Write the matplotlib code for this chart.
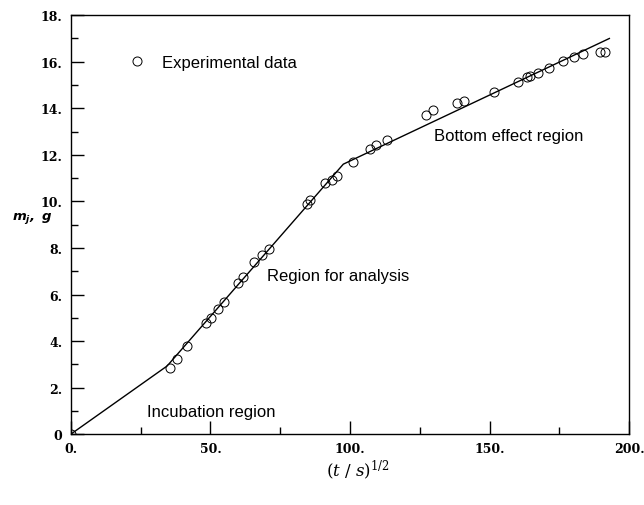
import matplotlib
matplotlib.use("Agg")
import matplotlib.pyplot as plt
from matplotlib.ticker import MultipleLocator, FixedLocator

plt.rcParams["mathtext.fontset"] = "custom"
plt.rcParams["mathtext.rm"] = "DejaVu Serif"
plt.rcParams["mathtext.it"] = "DejaVu Serif:italic"
plt.rcParams["mathtext.bf"] = "DejaVu Sans:bold:italic"

# Experimental data
x_data = [0.0, 35.5, 38.2, 41.7, 48.3, 50.2, 52.7, 54.7, 59.9, 61.8, 65.5, 68.6, 70.9,
          84.5, 85.5, 91.1, 93.4, 95.2, 101.0, 107.1, 109.3, 113.4, 127.3, 129.6,
          138.2, 140.7, 151.6, 160.0, 163.5, 164.5, 167.2, 171.4, 176.4, 180.1,
          183.3, 189.4, 191.4]
y_data = [0.0, 2.83, 3.25, 3.79, 4.77, 4.98, 5.37, 5.66, 6.49, 6.77, 7.40, 7.69, 7.95,
          9.88, 10.07, 10.78, 10.91, 11.10, 11.70, 12.27, 12.41, 12.64, 13.70, 13.93,
          14.22, 14.32, 14.72, 15.13, 15.33, 15.39, 15.53, 15.72, 16.03, 16.22,
          16.32, 16.42, 16.42]

# Piecewise fit line
x_fit = [0.0, 34.5, 97.6, 192.9]
y_fit = [0.0, 2.93, 11.6, 17.0]

x_ticks = [0, 50, 100, 150, 200]
x_ticklabels = ["0.", "50.", "100.", "150.", "200."]
y_ticks = [0, 2, 4, 6, 8, 10, 12, 14, 16, 18]
y_ticklabels = ["0", "2.", "4.", "6.", "8.", "10.", "12.", "14.", "16.", "18."]

fig = plt.figure(figsize=(6.44, 5.06), dpi=100)
ax = fig.add_axes([0.110, 0.140, 0.867, 0.828])

ax.plot(x_fit, y_fit, color="black", lw=1.0)
ax.plot(x_data, y_data, linestyle="none", marker="o", markersize=6.5,
        markerfacecolor="none", markeredgecolor="black", markeredgewidth=0.7,
        label="Experimental data")

ax.set_xlim(0, 200)
ax.set_ylim(0, 18)
ax.xaxis.set_major_locator(FixedLocator(x_ticks))
ax.set_xticklabels(x_ticklabels)
ax.yaxis.set_major_locator(FixedLocator(y_ticks))
ax.set_yticklabels(y_ticklabels)
ax.xaxis.set_minor_locator(MultipleLocator(25))
ax.yaxis.set_minor_locator(MultipleLocator(1))
ax.tick_params(which="both", direction="in", top=False, right=False, width=1.0)
ax.tick_params(which="major", length=9.5, pad=6)
ax.tick_params(which="minor", length=5)
for lab in ax.get_xticklabels() + ax.get_yticklabels():
    lab.set_fontfamily("DejaVu Serif")
    lab.set_fontweight("bold")
    lab.set_fontsize(9)
for sp in ax.spines.values():
    sp.set_linewidth(1.0)

# y-axis label "m_j, g" (bold italic sans via custom mathtext bf)
fig.text(0.019, 0.569, r"$\mathbf{m}_{\mathbf{j}}\mathbf{,\ g}$", fontsize=9.5,
         ha="left", va="center")

fig.text(0.556, 0.071, r"$(t\ /\ s)^{1/2}$", fontsize=12, ha="center", va="center")

leg = ax.legend(loc="center left", bbox_to_anchor=(0.088, 0.888), frameon=False,
                handletextpad=0.9, handlelength=1.2, borderaxespad=0,
                prop={"family": "Liberation Sans", "size": 12})

ax.text(0.650, 0.714, "Bottom effect region", transform=ax.transAxes,
        family="Liberation Sans", fontsize=12, ha="left", va="center")
ax.text(0.351, 0.379, "Region for analysis", transform=ax.transAxes,
        family="Liberation Sans", fontsize=12, ha="left", va="center")
ax.text(0.136, 0.055, "Incubation region", transform=ax.transAxes,
        family="Liberation Sans", fontsize=12, ha="left", va="center")

fig.savefig("out.png", dpi=100)
